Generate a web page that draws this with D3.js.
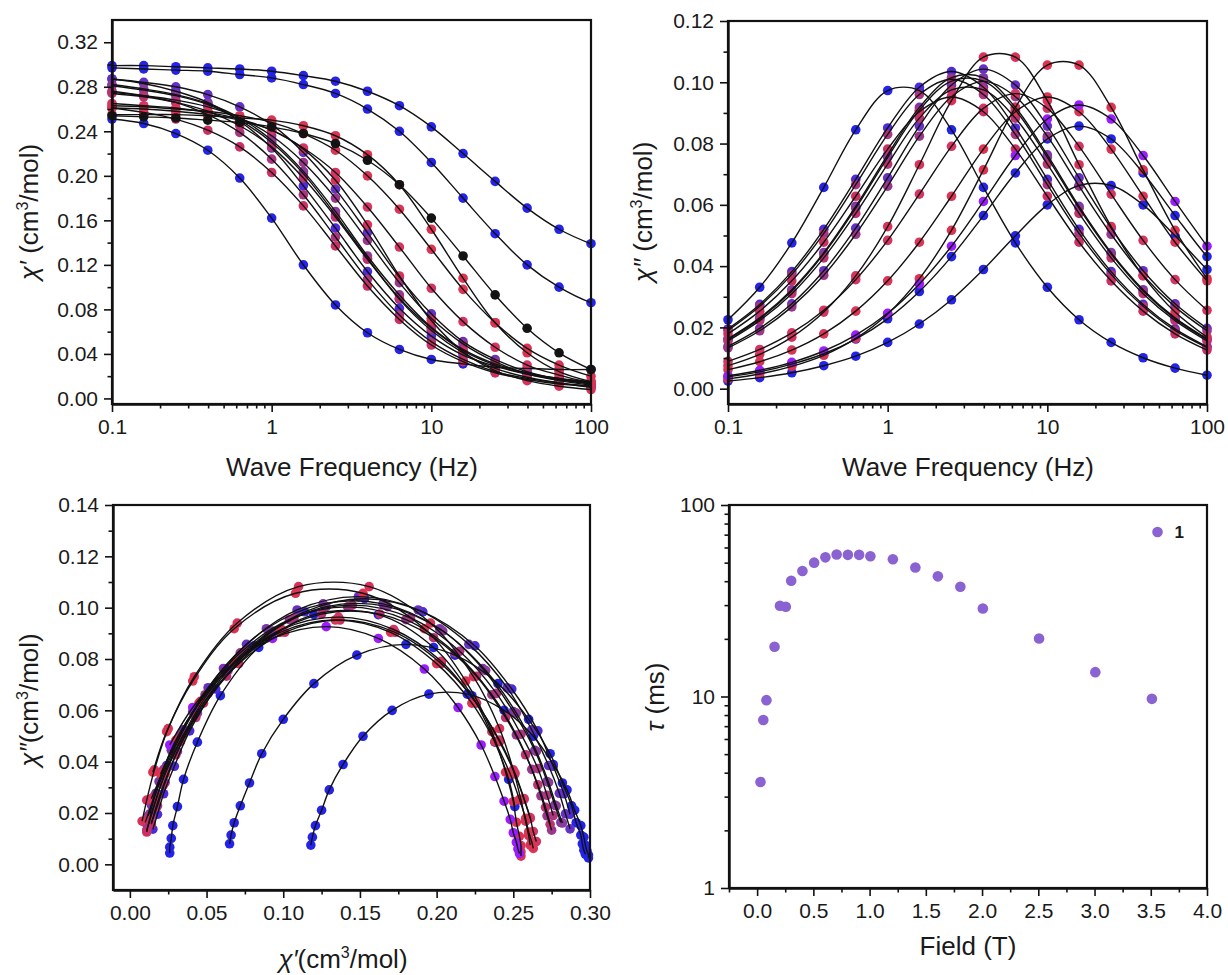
<!DOCTYPE html>
<html>
<head>
<meta charset="utf-8">
<script src="https://cdn.jsdelivr.net/npm/d3@7"></script>
<style>
  body { margin: 0; background: #fff; }
  text { font-family: "Liberation Sans", Arial, sans-serif; fill: #1a1a1a; }
</style>
</head>
<body>
<svg id="fig" width="1228" height="975"></svg>
<script>
// ac frequencies (Hz), 5 per decade; the two slow blue runs go on past 100 Hz
const freqs = [0.1, 0.158, 0.251, 0.398, 0.631, 1, 1.58, 2.51, 3.98, 6.31, 10, 15.8, 25.1, 39.8, 63.1, 100,
               158, 251, 398, 631, 1000];

const seriesNames = ['A', 'B1', 'B2', 'M1', 'M5', 'M8', 'M2', 'M7', 'M3', 'M4', 'M6', 'R1', 'R3', 'R4', 'R2', 'K'];

// in-phase chi' per series, one value per frequency
const chiPrime = [
  [0.251, 0.247, 0.238, 0.223, 0.198, 0.162, 0.120, 0.084, 0.059, 0.044, 0.035, 0.031, 0.028, 0.027, 0.026, 0.026],
  [0.299, 0.299, 0.298, 0.297, 0.296, 0.294, 0.290, 0.285, 0.276, 0.263, 0.244, 0.220, 0.195, 0.171, 0.152, 0.139,
   0.130, 0.125, 0.121, 0.119, 0.118],
  [0.297, 0.296, 0.295, 0.294, 0.291, 0.288, 0.282, 0.274, 0.260, 0.240, 0.212, 0.180, 0.148, 0.120, 0.100, 0.086,
   0.078, 0.072, 0.068, 0.066, 0.065],
  [0.287, 0.283, 0.276, 0.266, 0.249, 0.225, 0.191, 0.153, 0.114, 0.081, 0.056, 0.039, 0.029, 0.022, 0.018, 0.015],
  [0.287, 0.284, 0.280, 0.273, 0.262, 0.246, 0.221, 0.188, 0.149, 0.109, 0.076, 0.051, 0.035, 0.024, 0.017, 0.013],
  [0.281, 0.277, 0.272, 0.264, 0.250, 0.230, 0.202, 0.165, 0.126, 0.089, 0.061, 0.041, 0.027, 0.019, 0.014, 0.010],
  [0.282, 0.278, 0.273, 0.265, 0.252, 0.232, 0.204, 0.168, 0.128, 0.093, 0.064, 0.044, 0.031, 0.023, 0.018, 0.014],
  [0.275, 0.272, 0.268, 0.262, 0.252, 0.236, 0.212, 0.180, 0.142, 0.104, 0.072, 0.049, 0.033, 0.022, 0.016, 0.012],
  [0.276, 0.272, 0.266, 0.255, 0.239, 0.215, 0.183, 0.145, 0.107, 0.075, 0.051, 0.035, 0.024, 0.018, 0.014, 0.011],
  [0.274, 0.271, 0.266, 0.258, 0.245, 0.226, 0.198, 0.163, 0.125, 0.090, 0.063, 0.043, 0.030, 0.022, 0.017, 0.014],
  [0.261, 0.257, 0.251, 0.241, 0.226, 0.203, 0.173, 0.137, 0.101, 0.071, 0.048, 0.033, 0.023, 0.017, 0.013, 0.011],
  [0.261, 0.260, 0.258, 0.255, 0.250, 0.241, 0.224, 0.196, 0.156, 0.110, 0.070, 0.042, 0.025, 0.016, 0.011, 0.008],
  [0.265, 0.263, 0.261, 0.257, 0.251, 0.241, 0.225, 0.203, 0.172, 0.136, 0.099, 0.069, 0.046, 0.030, 0.021, 0.014],
  [0.263, 0.262, 0.260, 0.258, 0.254, 0.248, 0.238, 0.223, 0.200, 0.170, 0.134, 0.098, 0.068, 0.045, 0.030, 0.020],
  [0.255, 0.255, 0.255, 0.254, 0.252, 0.250, 0.245, 0.236, 0.219, 0.192, 0.152, 0.108, 0.068, 0.041, 0.024, 0.015],
  [0.254, 0.253, 0.252, 0.250, 0.248, 0.244, 0.238, 0.229, 0.214, 0.192, 0.162, 0.128, 0.093, 0.063, 0.041, 0.026]
];

// out-of-phase chi'' per series
const chiDouble = [
  [0.0225, 0.0331, 0.0476, 0.0657, 0.0845, 0.0973, 0.0973, 0.0845, 0.0657, 0.0476, 0.0331, 0.0225, 0.0151, 0.0101, 0.0067, 0.0044],
  [0.0025, 0.0036, 0.0052, 0.0075, 0.0106, 0.0151, 0.0211, 0.0290, 0.0389, 0.0499, 0.0600, 0.0663, 0.0663, 0.0600, 0.0499, 0.0389,
   0.0290, 0.0211, 0.0151, 0.0106, 0.0075],
  [0.0039, 0.0055, 0.0080, 0.0114, 0.0162, 0.0228, 0.0317, 0.0431, 0.0565, 0.0704, 0.0815, 0.0857, 0.0815, 0.0704, 0.0565, 0.0431,
   0.0317, 0.0228, 0.0162, 0.0114, 0.0080],
  [0.0195, 0.0275, 0.0382, 0.0520, 0.0683, 0.0851, 0.0984, 0.1035, 0.0984, 0.0851, 0.0683, 0.0520, 0.0382, 0.0275, 0.0195, 0.0137],
  [0.0138, 0.0197, 0.0277, 0.0385, 0.0524, 0.0688, 0.0857, 0.0991, 0.1043, 0.0991, 0.0857, 0.0688, 0.0524, 0.0385, 0.0277, 0.0197],
  [0.0163, 0.0231, 0.0323, 0.0444, 0.0595, 0.0763, 0.0918, 0.1015, 0.1015, 0.0918, 0.0763, 0.0595, 0.0444, 0.0323, 0.0231, 0.0163],
  [0.0161, 0.0228, 0.0319, 0.0440, 0.0589, 0.0755, 0.0909, 0.1004, 0.1004, 0.0909, 0.0755, 0.0589, 0.0440, 0.0319, 0.0228, 0.0161],
  [0.0133, 0.0189, 0.0267, 0.0370, 0.0504, 0.0661, 0.0824, 0.0953, 0.1003, 0.0953, 0.0824, 0.0661, 0.0504, 0.0370, 0.0267, 0.0189],
  [0.0190, 0.0269, 0.0373, 0.0507, 0.0666, 0.0830, 0.0960, 0.1010, 0.0960, 0.0830, 0.0666, 0.0507, 0.0373, 0.0269, 0.0190, 0.0134],
  [0.0156, 0.0222, 0.0310, 0.0427, 0.0572, 0.0733, 0.0883, 0.0975, 0.0975, 0.0883, 0.0733, 0.0572, 0.0427, 0.0310, 0.0222, 0.0156],
  [0.0179, 0.0253, 0.0352, 0.0478, 0.0628, 0.0782, 0.0904, 0.0952, 0.0904, 0.0782, 0.0628, 0.0478, 0.0352, 0.0253, 0.0179, 0.0126],
  [0.0075, 0.0112, 0.0168, 0.0250, 0.0368, 0.0529, 0.0731, 0.0940, 0.1082, 0.1082, 0.0940, 0.0731, 0.0529, 0.0368, 0.0250, 0.0168],
  [0.0089, 0.0128, 0.0182, 0.0256, 0.0356, 0.0484, 0.0635, 0.0791, 0.0915, 0.0963, 0.0915, 0.0791, 0.0635, 0.0484, 0.0356, 0.0256],
  [0.0062, 0.0088, 0.0126, 0.0179, 0.0253, 0.0352, 0.0478, 0.0628, 0.0782, 0.0904, 0.0952, 0.0904, 0.0782, 0.0628, 0.0478, 0.0352],
  [0.0032, 0.0048, 0.0073, 0.0109, 0.0164, 0.0244, 0.0359, 0.0517, 0.0714, 0.0918, 0.1056, 0.1056, 0.0918, 0.0714, 0.0517, 0.0359],
  [0.0042, 0.0060, 0.0086, 0.0123, 0.0175, 0.0246, 0.0342, 0.0465, 0.0611, 0.0761, 0.0880, 0.0926, 0.0880, 0.0761, 0.0611, 0.0465]
];

// dot colours: chi' panel, then chi''/Cole-Cole panels
const colorsChi1 = ['#2323ea', '#2323ea', '#2323ea', '#4b2bdc', '#6531c4', '#7b36ac', '#8a3a9a', '#9a378c',
                    '#ab357e', '#bd3270', '#cc3063', '#d8325a', '#d63462', '#dc3454', '#dd3350', '#141414'];
const colorsChi2 = ['#2323ea', '#2323ea', '#2323ea', '#4b2bdc', '#6531c4', '#7b36ac', '#8a3a9a', '#9a378c',
                    '#ab357e', '#bd3270', '#cc3063', '#d8325a', '#d63462', '#dc3454', '#dd3350', '#9b1cff'];

// relaxation time vs field
const fieldT = [0.03, 0.055, 0.083, 0.155, 0.203, 0.255, 0.303, 0.403, 0.507, 0.607, 0.707, 0.807, 0.907, 1.007,
                1.207, 1.407, 1.607, 1.807, 2.007, 2.507, 3.007, 3.51];
const tauMs = [3.58, 7.54, 9.57, 18.2, 29.8, 29.4, 40.2, 45.2, 50.0, 53.3, 55.1, 54.9, 54.9, 54.0,
               52.1, 47.2, 42.4, 37.4, 28.8, 20.1, 13.4, 9.72];

const svg = d3.select('#fig');
const tickFont = 21;
const dotR = 4.8;

function logMinors(lo, hi) {
    const out = [];
    for (let d = lo; d < hi; d *= 10) {
        for (let m = 2; m <= 9; m++) out.push(d * m);
    }
    return out;
}

function drawAxes(g, box, x, y, opt) {
    g.append('g').attr('transform', `translate(0,${box.y1})`)
        .call(d3.axisBottom(x).tickValues(opt.xMajor).tickFormat(opt.xFmt).tickSize(8).tickSizeOuter(0).tickPadding(7));
    g.append('g').attr('transform', `translate(0,${box.y1})`)
        .call(d3.axisBottom(x).tickValues(opt.xMinor).tickFormat('').tickSize(4.5))
        .select('.domain').remove();
    g.append('g').attr('transform', `translate(${box.x0},0)`)
        .call(d3.axisLeft(y).tickValues(opt.yMajor).tickFormat(opt.yFmt).tickSize(8).tickSizeOuter(0).tickPadding(6));
    g.append('g').attr('transform', `translate(${box.x0},0)`)
        .call(d3.axisLeft(y).tickValues(opt.yMinor).tickFormat('').tickSize(4.5))
        .select('.domain').remove();

    g.selectAll('.tick line').attr('stroke', '#111').attr('stroke-width', 1.6);
    g.selectAll('.domain').attr('stroke', '#111').attr('stroke-width', 2.4);
    g.selectAll('.tick text').attr('font-size', tickFont).attr('font-family', '"Liberation Sans", Arial, sans-serif').attr('fill', '#1a1a1a');

    g.append('rect')
        .attr('x', box.x0).attr('y', box.y0)
        .attr('width', box.x1 - box.x0).attr('height', box.y1 - box.y0)
        .attr('fill', 'none').attr('stroke', '#111').attr('stroke-width', 2.2);
}

function clipTo(id, box) {
    svg.append('clipPath').attr('id', id).append('rect')
        .attr('x', box.x0).attr('y', box.y0)
        .attr('width', box.x1 - box.x0).attr('height', box.y1 - box.y0);
    return `url(#${id})`;
}

function chiLabel(sel, symbol, gap) {
    sel.append('tspan').attr('font-style', 'italic').text(symbol);
    sel.append('tspan').text(gap + '(cm');
    sel.append('tspan').attr('dy', -10).attr('font-size', 16).text('3');
    sel.append('tspan').attr('dy', 10).text('/mol)');
}

function yTitle(x, y) {
    return svg.append('text')
        .attr('transform', `translate(${x},${y}) rotate(-90)`)
        .attr('text-anchor', 'middle')
        .attr('font-size', 26);
}

function xTitle(x, y) {
    return svg.append('text')
        .attr('x', x).attr('y', y)
        .attr('text-anchor', 'middle')
        .attr('font-size', 26);
}

const fitLine = d3.line().curve(d3.curveCatmullRom.alpha(0.5));
const yFmt2 = d3.format('.2f');
const freqFmt = d => String(d);

// chi vs frequency panel (panels 1 and 2)
function freqPanel(box, yDomain, values, colors, clipId, axisOpt) {
    const x = d3.scaleLog().domain([0.1, 100]).range([box.x0, box.x1]);
    const y = d3.scaleLinear().domain(yDomain).range([box.y1, box.y0]);
    const g = svg.append('g');
    const clip = clipTo(clipId, box);

    const dots = g.append('g');
    values.forEach((vals, i) => {
        dots.selectAll(null).data(vals.filter((d, j) => freqs[j] <= 100)).join('circle')
            .attr('cx', (d, j) => x(freqs[j]))
            .attr('cy', d => y(d))
            .attr('r', dotR)
            .attr('fill', colors[i]);
    });
    const lines = g.append('g').attr('clip-path', clip);
    values.forEach(vals => {
        lines.append('path')
            .attr('d', fitLine(vals.map((d, j) => [x(freqs[j]), y(d)])))
            .attr('fill', 'none').attr('stroke', '#111').attr('stroke-width', 1.4);
    });
    drawAxes(g, box, x, y, axisOpt);
}

// ---- panel 1: chi' vs frequency ----
freqPanel({ x0: 112, x1: 591, y0: 20, y1: 404 }, [-0.005, 0.34], chiPrime, colorsChi1, 'clip1', {
    xMajor: [0.1, 1, 10, 100], xMinor: logMinors(0.1, 100), xFmt: freqFmt,
    yMajor: [0, 0.04, 0.08, 0.12, 0.16, 0.20, 0.24, 0.28, 0.32],
    yMinor: [0.02, 0.06, 0.10, 0.14, 0.18, 0.22, 0.26, 0.30], yFmt: yFmt2
});
chiLabel(yTitle(38, 212), 'χ′', ' ');
xTitle(352, 476).text('Wave Frequency (Hz)');

// ---- panel 2: chi'' vs frequency ----
freqPanel({ x0: 728, x1: 1207, y0: 21, y1: 404 }, [-0.005, 0.12], chiDouble, colorsChi2, 'clip2', {
    xMajor: [0.1, 1, 10, 100], xMinor: logMinors(0.1, 100), xFmt: freqFmt,
    yMajor: [0, 0.02, 0.04, 0.06, 0.08, 0.10, 0.12],
    yMinor: [0.01, 0.03, 0.05, 0.07, 0.09, 0.11], yFmt: yFmt2
});
chiLabel(yTitle(652, 212), 'χ″', ' ');
xTitle(968, 476).text('Wave Frequency (Hz)');

// ---- panel 3: Cole-Cole ----
{
    const box = { x0: 113, x1: 590, y0: 505, y1: 890 };
    const x = d3.scaleLinear().domain([-0.011, 0.30]).range([box.x0, box.x1]);
    const y = d3.scaleLinear().domain([-0.01, 0.14]).range([box.y1, box.y0]);
    const g = svg.append('g');

    const dots = g.append('g');
    chiPrime.forEach((vals, i) => {
        dots.selectAll(null).data(vals).join('circle')
            .attr('cx', d => x(d))
            .attr('cy', (d, j) => y(chiDouble[i][j]))
            .attr('r', dotR)
            .attr('fill', colorsChi2[i]);
    });
    const lines = g.append('g');
    chiPrime.forEach((vals, i) => {
        lines.append('path')
            .attr('d', fitLine(vals.map((d, j) => [x(d), y(chiDouble[i][j])])))
            .attr('fill', 'none').attr('stroke', '#111').attr('stroke-width', 1.4);
    });

    drawAxes(g, box, x, y, {
        xMajor: [0, 0.05, 0.10, 0.15, 0.20, 0.25, 0.30],
        xMinor: [0.025, 0.075, 0.125, 0.175, 0.225, 0.275], xFmt: yFmt2,
        yMajor: [0, 0.02, 0.04, 0.06, 0.08, 0.10, 0.12, 0.14],
        yMinor: [0.01, 0.03, 0.05, 0.07, 0.09, 0.11, 0.13], yFmt: yFmt2
    });

    chiLabel(yTitle(38, 700), 'χ″', '');
    chiLabel(xTitle(343, 968), 'χ′', '');
}

// ---- panel 4: tau vs field ----
{
    const box = { x0: 729, x1: 1207, y0: 505, y1: 888 };
    const x = d3.scaleLinear().domain([-0.25, 4.0]).range([box.x0, box.x1]);
    const y = d3.scaleLog().domain([1, 100]).range([box.y1, box.y0]);
    const g = svg.append('g');

    g.append('g').selectAll('circle').data(fieldT).join('circle')
        .attr('cx', d => x(d))
        .attr('cy', (d, i) => y(tauMs[i]))
        .attr('r', 5.3)
        .attr('fill', '#8a62d2');

    drawAxes(g, box, x, y, {
        xMajor: [0, 0.5, 1.0, 1.5, 2.0, 2.5, 3.0, 3.5, 4.0],
        xMinor: [-0.25, 0.25, 0.75, 1.25, 1.75, 2.25, 2.75, 3.25, 3.75], xFmt: d3.format('.1f'),
        yMajor: [1, 10, 100], yMinor: logMinors(1, 100), yFmt: d => String(d)
    });

    // legend
    g.append('circle').attr('cx', x(3.56)).attr('cy', 532).attr('r', 5.3).attr('fill', '#8a62d2');
    g.append('text').attr('x', x(3.56) + 17).attr('y', 538)
        .attr('font-size', 17).attr('font-weight', 'bold').text('1');

    const t = yTitle(664, 697);
    t.append('tspan').attr('font-style', 'italic').text('τ');
    t.append('tspan').text(' (ms)');
    xTitle(968, 955).text('Field (T)');
}
</script>
</body>
</html>
